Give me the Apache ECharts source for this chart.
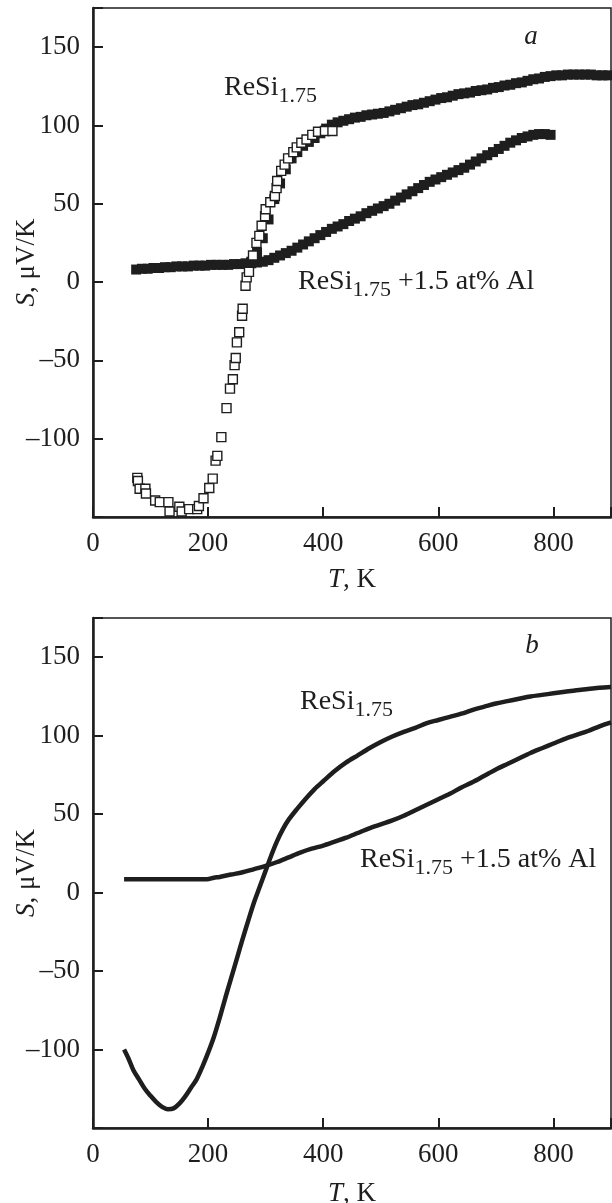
<!DOCTYPE html>
<html>
<head>
<meta charset="UTF-8">
<title>S(T) ReSi1.75</title>
<script src="https://cdn.jsdelivr.net/npm/echarts@6.0.0/dist/echarts.min.js"></script>
<style>
    html, body { margin: 0; padding: 0; background: #fff; }
    #main { width: 612px; height: 1203px; }
</style>
</head>
<body>
<div id="main"></div>
<script>
    // panel a, ReSi1.75, open squares (low T run)
    var aOpenT = [77, 78, 81, 91, 92, 108, 116, 131, 133, 150, 154, 167, 181, 184, 192, 202, 208, 213, 216, 223, 232, 238, 243, 246, 248, 250, 254, 259, 260, 265, 267, 271, 278, 284, 289, 293, 299, 300, 308, 316, 319, 320, 327, 333, 339, 348, 354, 362, 371, 381, 391, 403, 416];
    var aOpenS = [-125, -127, -132, -132, -135, -139.5, -140.5, -140.5, -146.5, -143.5, -146.5, -145, -145, -143, -138, -131.5, -125.5, -114, -111, -99, -80.5, -68, -62, -53, -48.5, -38.5, -32, -21.5, -17, -2.3, 3, 6.5, 17, 25, 29.5, 36, 42, 46.5, 51, 55, 60, 64.5, 71, 75, 79, 83, 86, 89, 91, 94, 96, 96.5, 96.5];

    // panel a, ReSi1.75, filled squares (high T run)
    var aFillT = [275, 285, 295, 305, 315, 325, 335, 345, 355, 365, 375, 385, 395, 405, 415, 425, 435, 445, 455, 465, 475, 485, 495, 505, 515, 525, 535, 545, 555, 565, 575, 585, 595, 605, 615, 625, 635, 645, 655, 665, 675, 685, 695, 705, 715, 725, 735, 745, 755, 765, 775, 785, 795, 805, 815, 825, 835, 845, 855, 865, 875, 885, 895];
    var aFillS = [13, 19, 28, 40, 53, 63, 72, 79, 83, 87, 89.5, 92, 95, 98, 100.5, 102, 103, 104, 105, 105.5, 106.5, 107, 107.5, 108, 109, 110, 111, 112, 113, 113.5, 114.5, 115.5, 116.5, 117.5, 118, 119, 120, 120.5, 121, 122, 122.5, 123, 124, 124.5, 125.5, 126, 127, 127.5, 128.5, 129.5, 130, 131, 131.5, 132, 132, 132.5, 132.5, 132.5, 132.5, 132.5, 132, 132, 132];

    // panel a, ReSi1.75 + 1.5 at% Al, filled squares
    var aAlT = [75, 85, 95, 105, 115, 125, 135, 145, 155, 165, 175, 185, 195, 205, 215, 225, 235, 245, 255, 265, 275, 285, 295, 305, 315, 325, 335, 345, 355, 365, 375, 385, 395, 405, 415, 425, 435, 445, 455, 465, 475, 485, 495, 505, 515, 525, 535, 545, 555, 565, 575, 585, 595, 605, 615, 625, 635, 645, 655, 665, 675, 685, 695, 705, 715, 725, 735, 745, 755, 765, 775, 785, 795];
    var aAlS = [8, 8.5, 8.5, 9, 9, 9.5, 9.5, 10, 10, 10, 10.5, 10.5, 10.5, 11, 11, 11, 11, 11.5, 11.5, 12, 12, 12.5, 13, 14, 15.5, 17, 18.5, 20, 22, 24, 26, 28, 30, 32, 34, 35.5, 37, 39, 40.5, 42, 44, 45.5, 47, 48.5, 50, 52, 54, 56, 58, 60, 62, 64, 65.5, 67, 68.5, 70, 71.5, 73, 75, 77, 79, 81, 83, 85, 87, 89, 90.5, 92, 93, 94, 94.5, 94.5, 94];

    // panel b, ReSi1.75
    var bResT = [54, 62, 70, 80, 90, 100, 110, 120, 130, 140, 150, 160, 170, 180, 190, 200, 210, 220, 230, 240, 250, 260, 270, 280, 290, 300, 310, 320, 330, 340, 355, 370, 385, 400, 420, 440, 460, 480, 500, 520, 540, 560, 580, 600, 620, 640, 660, 680, 700, 720, 740, 760, 780, 800, 820, 840, 860, 880, 900];
    var bResS = [-100, -106, -113, -119, -125, -129.5, -133.5, -136.5, -138, -137.5, -134.5, -130, -124.5, -119, -111, -102, -92, -80, -67, -54.5, -42, -29.5, -17.5, -6, 4, 14, 24, 33, 40.5, 46.5, 53.5, 60, 66, 71, 77.5, 83, 87.5, 92, 96, 99.5, 102.5, 105, 108, 110, 112, 114, 116.5, 118.5, 120.5, 122, 123.5, 125, 126, 127, 128, 129, 129.7, 130.5, 131];

    // panel b, ReSi1.75 + 1.5 at% Al
    var bAlT = [54, 80, 100, 120, 140, 160, 180, 198, 210, 220, 240, 260, 280, 300, 320, 340, 360, 380, 400, 420, 440, 460, 480, 500, 520, 540, 560, 580, 600, 620, 640, 660, 680, 700, 720, 740, 760, 780, 800, 820, 840, 860, 880, 900];
    var bAlS = [8.5, 8.5, 8.5, 8.5, 8.5, 8.5, 8.5, 8.5, 9.5, 10, 11.5, 13, 15, 17, 19.5, 22.5, 25.5, 28, 30, 32.5, 35, 38, 41, 43.5, 46, 49, 52.5, 56, 59.5, 63, 67, 70.5, 74.5, 78.5, 82, 85.5, 89, 92, 95, 98, 100.5, 103, 106, 108.5];

    // tick labels
    var xTicks = [0, 200, 400, 600, 800];
    var yTicks = [-100, -50, 0, 50, 100, 150];

    var FONT = '"Liberation Serif", "DejaVu Serif", serif';
    var INK = '#1e1e1e';

    function zip(xs, ys) {
        var out = [];
        for (var i = 0; i < xs.length; i++) out.push([xs[i], ys[i]]);
        return out;
    }

    var nameStyle = {
        fontFamily: FONT, fontSize: 27, color: INK,
        rich: {
            i: { fontFamily: FONT, fontSize: 27, fontStyle: 'italic', color: INK },
            r: { fontFamily: FONT, fontSize: 27, color: INK }
        }
    };

    function xAxisFor(idx, gap) {
        return {
            gridIndex: idx, type: 'value', min: 0, max: 900, interval: 200,
            name: '{i|T}{r|, K}', nameLocation: 'middle', nameGap: gap, nameMoveOverlap: false,
            nameTextStyle: nameStyle,
            axisLine: { onZero: false, lineStyle: { color: INK, width: 2.5 } },
            axisTick: { inside: true, length: 10, lineStyle: { color: INK, width: 2 } },
            axisLabel: {
                margin: 13, fontFamily: FONT, fontSize: 27, color: INK,
                formatter: function (v) { return xTicks.indexOf(v) >= 0 ? String(v) : ''; }
            },
            splitLine: { show: false }
        };
    }

    function yAxisFor(idx) {
        return {
            gridIndex: idx, type: 'value', min: -150, max: 175, interval: 50,
            name: '{i|S}{r|, μV/K}', nameLocation: 'middle', nameGap: 53, nameMoveOverlap: false,
            nameTextStyle: nameStyle,
            axisLine: { onZero: false, lineStyle: { color: INK, width: 2.5 } },
            axisTick: { inside: true, length: 10, lineStyle: { color: INK, width: 2 } },
            axisLabel: {
                margin: 13, fontFamily: FONT, fontSize: 27, color: INK,
                formatter: function (v) {
                    if (yTicks.indexOf(v) < 0) return '';
                    return v < 0 ? '\u2013' + Math.abs(v) : String(v);
                }
            },
            splitLine: { show: false }
        };
    }

    var ctx = document.createElement('canvas').getContext('2d');
    function textWidth(t, size) {
        ctx.font = size + 'px "Liberation Serif"';
        return ctx.measureText(t).width;
    }
    // "ReSi" + subscript "1.75" (+ optional tail), drawn piece by piece
    function formula(x, yMain, tail) {
        var ySub = yMain + 8;
        var els = [];
        var parts = [['ReSi', 28, yMain], ['1.75', 22, ySub]];
        if (tail) parts.push([tail, 28, yMain]);
        parts.forEach(function (p) {
            els.push({
                type: 'text', z: 100,
                style: {
                    text: p[0], x: x, y: p[2], fill: INK,
                    font: p[1] + 'px ' + FONT,
                    textAlign: 'left', textVerticalAlign: 'middle',
                    align: 'left', verticalAlign: 'middle'
                }
            });
            x += textWidth(p[0], p[1]);
        });
        return els;
    }
    function letter(t, x, y) {
        return {
            type: 'text', z: 100,
            style: {
                text: t, x: x, y: y, fill: INK,
                font: 'italic 27px ' + FONT,
                textAlign: 'center', textVerticalAlign: 'middle',
                align: 'center', verticalAlign: 'middle'
            }
        };
    }

    var graphics = []
        .concat(formula(224, 88))
        .concat(formula(298, 282, ' +1.5 at% Al'))
        .concat(formula(300, 702))
        .concat(formula(360, 860, ' +1.5 at% Al'))
        .concat([letter('a', 531, 37), letter('b', 532, 646)]);

    var myChart = echarts.init(document.getElementById('main'), null, { renderer: 'canvas' });

    var gridBase = { show: true, borderColor: INK, borderWidth: 1.5, backgroundColor: 'transparent', containLabel: false, outerBoundsMode: 'none' };

    var option = {
        animation: false,
        backgroundColor: '#fff',
        grid: [
            Object.assign({ left: 93, top: 8, width: 518, height: 509 }, gridBase),
            Object.assign({ left: 93, top: 618, width: 518, height: 510 }, gridBase)
        ],
        xAxis: [xAxisFor(0, 49), xAxisFor(1, 52)],
        yAxis: [yAxisFor(0), yAxisFor(1)],
        graphic: graphics,
        series: [
            {
                name: 'ReSi1.75 (high T)', type: 'scatter', xAxisIndex: 0, yAxisIndex: 0,
                symbol: 'rect', symbolSize: 10, itemStyle: { color: INK, opacity: 1 },
                data: zip(aFillT, aFillS)
            },
            {
                name: 'ReSi1.75 +1.5 at% Al', type: 'scatter', xAxisIndex: 0, yAxisIndex: 0,
                symbol: 'rect', symbolSize: 10, itemStyle: { color: INK, opacity: 1 },
                data: zip(aAlT, aAlS)
            },
            {
                name: 'ReSi1.75 (low T)', type: 'scatter', xAxisIndex: 0, yAxisIndex: 0, z: 5,
                symbol: 'rect', symbolSize: 9,
                itemStyle: { color: '#fff', borderColor: INK, borderWidth: 1.4, opacity: 1 },
                data: zip(aOpenT, aOpenS)
            },
            {
                name: 'ReSi1.75', type: 'line', xAxisIndex: 1, yAxisIndex: 1,
                showSymbol: false, smooth: 0.3,
                lineStyle: { color: INK, width: 4.5 },
                data: zip(bResT, bResS)
            },
            {
                name: 'ReSi1.75 +1.5 at% Al', type: 'line', xAxisIndex: 1, yAxisIndex: 1,
                showSymbol: false, smooth: 0.3,
                lineStyle: { color: INK, width: 4.5 },
                data: zip(bAlT, bAlS)
            }
        ]
    };

    myChart.setOption(option);
</script>
</body>
</html>
